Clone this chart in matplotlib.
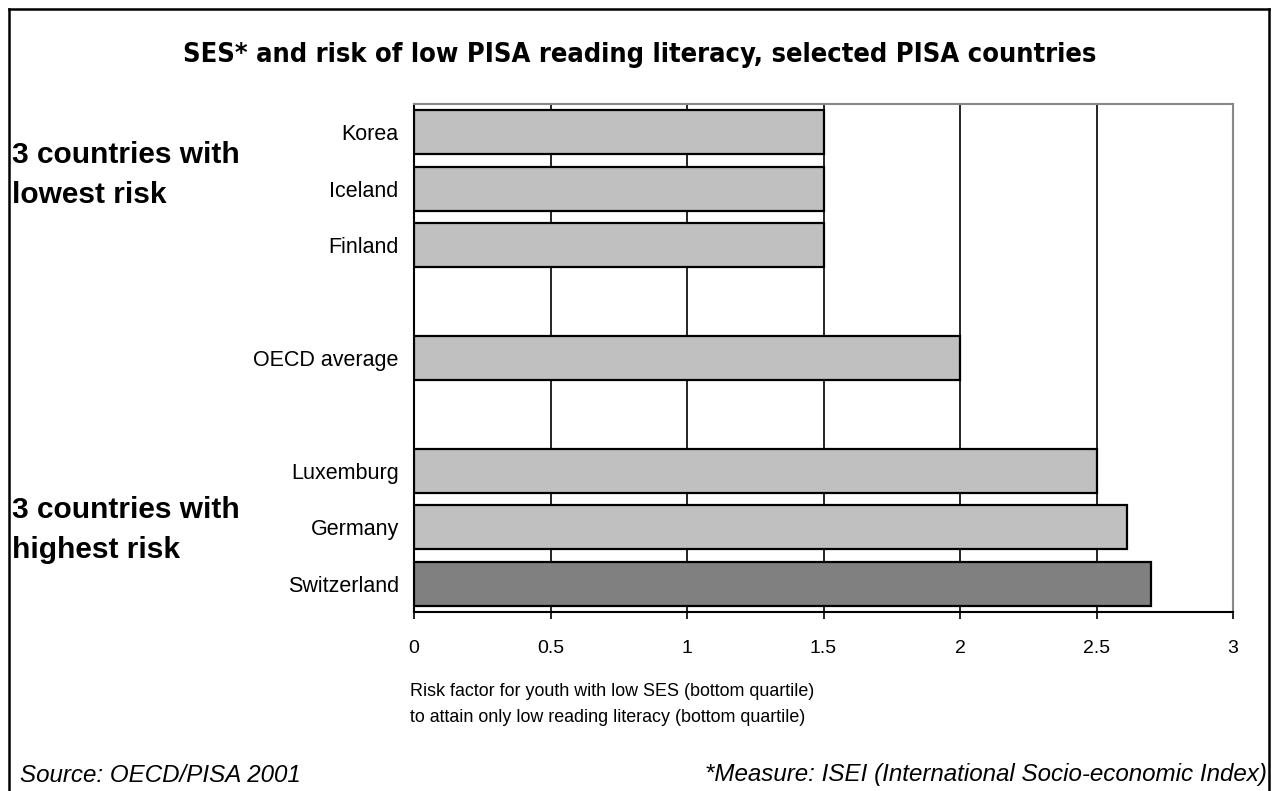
import matplotlib
matplotlib.use("Agg")
import matplotlib.pyplot as plt
from matplotlib.lines import Line2D

# data (top to bottom, blank slots keep the gaps between groups)
countries = ["Korea", "Iceland", "Finland", "", "OECD average", "", "Luxemburg", "Germany", "Switzerland"]
risk = [1.5, 1.5, 1.5, None, 2.0, None, 2.5, 2.61, 2.7]
bar_colors = ["#C0C0C0", "#C0C0C0", "#C0C0C0", None, "#C0C0C0", None, "#C0C0C0", "#C0C0C0", "#808080"]
x_ticks = [0, 0.5, 1, 1.5, 2, 2.5, 3]
x_ticklabels = ["0", "0.5", "1", "1.5", "2", "2.5", "3"]

title = "SES* and risk of low PISA reading literacy, selected PISA countries"
low_group = ["3 countries with", "lowest risk"]
high_group = ["3 countries with", "highest risk"]
xlabel_lines = ["Risk factor for youth with low SES (bottom quartile)",
                "to attain only low reading literacy (bottom quartile)"]
source_note = "Source: OECD/PISA 2001"
measure_note = "*Measure: ISEI (International Socio-economic Index)"

plt.rcParams['font.family'] = ['Liberation Sans', 'DejaVu Sans']

W, H = 1273, 791
fig = plt.figure(figsize=(W / 100, H / 100), dpi=100)
ax = fig.add_axes([414 / W, 1 - 612 / H, (1233 - 414) / W, (612 - 104) / H])

ypos = list(range(len(countries)))
for y, v, c in zip(ypos, risk, bar_colors):
    if v is None:
        continue
    ax.barh(y, v, height=0.78, color=c, edgecolor="black", linewidth=1.6, zorder=3)

ax.set_xlim(0, 3)
ax.set_ylim(len(countries) - 0.5, -0.5)
ax.set_xticks(x_ticks)
ax.set_xticklabels(x_ticklabels, fontsize=14)
ax.set_yticks([y for y, c in zip(ypos, countries) if c])
ax.set_yticklabels([c for c in countries if c], fontsize=15.5)
ax.tick_params(axis="y", length=0, pad=11)
ax.tick_params(axis="x", direction="out", length=5, width=1.2, pad=15)
for x in x_ticks[1:-1]:
    ax.axvline(x, color="black", linewidth=1.2, zorder=1)

for side in ["top", "right"]:
    ax.spines[side].set_color("#888888")
    ax.spines[side].set_linewidth(1.5)
for side in ["left", "bottom"]:
    ax.spines[side].set_color("black")
    ax.spines[side].set_linewidth(1.5)

fig.text(640 / W, 1 - 55 / H, title, ha="center", va="center", fontsize=19.5,
         fontweight="bold", fontstretch="condensed", family="DejaVu Sans")

for lines, base in [(low_group, 163), (high_group, 518)]:
    for i, line in enumerate(lines):
        fig.text(12 / W, 1 - (base + 40 * i) / H, line, ha="left", va="baseline",
                 fontsize=21.5, fontweight="bold")

for i, line in enumerate(xlabel_lines):
    fig.text(410 / W, 1 - (691 + 26 * i) / H, line, ha="left", va="center", fontsize=12.9)

fig.text(20 / W, 1 - 775 / H, source_note, ha="left", va="center", fontsize=17.4, style="italic")
fig.text(1267 / W, 1 - 775 / H, measure_note, ha="right", va="center", fontsize=17.4, style="italic")

# outer frame (left, top, right; bottom edge falls outside the image)
x0, x1, y1 = 9 / W, 1269 / W, 1 - 9 / H
for xs, ys in [([x0, x0], [0, y1]), ([x0, x1], [y1, y1]), ([x1, x1], [y1, 0])]:
    fig.add_artist(Line2D(xs, ys, color="black", linewidth=1.8, transform=fig.transFigure))

fig.savefig("out.png", dpi=100)
